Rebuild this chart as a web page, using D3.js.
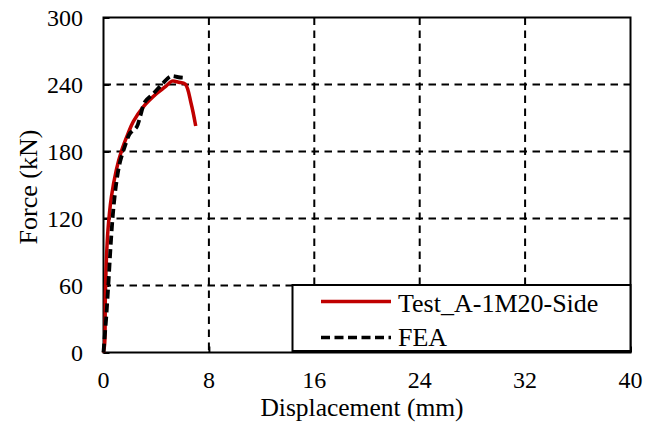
<!DOCTYPE html>
<html>
<head>
<meta charset="utf-8">
<script src="https://cdn.jsdelivr.net/npm/d3@7"></script>
<style>
  html, body { margin: 0; padding: 0; background: #fff; }
  svg { display: block; font-family: "Liberation Serif", "Times New Roman", serif; }
</style>
</head>
<body>
<svg id="chart" width="656" height="426"></svg>
<script>
// Load–displacement response: test vs. finite element analysis
const testDisp  = [0, 0.09, 0.14, 0.21, 0.34, 0.6, 0.97, 1.35, 1.86, 2.26, 3.02, 4.04, 4.7, 5.2, 5.7, 6.2, 6.65, 7.0];
const testForce = [0, 8, 50, 80, 110, 139.5, 163.4, 180, 196, 206.7, 220, 232, 238, 243, 242, 240.4, 223, 202.8];

const feaDisp  = [0, 0.05, 0.21, 0.39, 0.54, 0.72, 0.97, 1.23, 1.6, 1.99, 2.14, 2.52, 2.8, 3.15, 3.8, 4.5, 5.05, 5.25, 5.7, 6.3];
const feaForce = [0, 8, 32, 65, 95, 124.7, 151.5, 169.4, 184, 196, 197.7, 202, 212, 224.6, 232, 241, 247, 247.5, 246.5, 246];

const xTicks = [0, 8, 16, 24, 32, 40];
const yTicks = [0, 60, 120, 180, 240, 300];

const seriesNames = ["Test_A-1M20-Side", "FEA"];

const svg = d3.select("#chart");
const plotL = 103.5, plotR = 630.5, plotT = 17.5, plotB = 352.5;

const x = d3.scaleLinear().domain([0, 40]).range([plotL, plotR]);
const y = d3.scaleLinear().domain([0, 300]).range([plotB, plotT]);

// dashed grid
const grid = svg.append("g")
  .attr("stroke", "#000").attr("stroke-width", 2).attr("stroke-dasharray", "7.5,5.5");
grid.selectAll("line.h").data(yTicks.filter(v => v > 0 && v < 300)).enter()
  .append("line").attr("class", "h")
  .attr("x1", plotL).attr("x2", plotR)
  .attr("y1", d => y(d)).attr("y2", d => y(d));
grid.selectAll("line.v").data(xTicks.filter(v => v > 0 && v < 40)).enter()
  .append("line").attr("class", "v")
  .attr("y1", plotT).attr("y2", plotB)
  .attr("x1", d => x(d)).attr("x2", d => x(d));

// plot frame
svg.append("rect")
  .attr("x", plotL).attr("y", plotT)
  .attr("width", plotR - plotL).attr("height", plotB - plotT)
  .attr("fill", "none").attr("stroke", "#000").attr("stroke-width", 2);

// axes with inside ticks
const xAxis = svg.append("g").attr("transform", `translate(0,${plotB})`)
  .call(d3.axisTop(x).tickValues(xTicks).tickSize(6).tickFormat(""));
const yAxis = svg.append("g").attr("transform", `translate(${plotL},0)`)
  .call(d3.axisRight(y).tickValues(yTicks).tickSize(6).tickFormat(""));
[xAxis, yAxis].forEach(a => {
  a.select(".domain").remove();
  a.selectAll(".tick line").attr("stroke", "#000").attr("stroke-width", 2);
});

// tick labels
svg.append("g").selectAll("text").data(xTicks).enter().append("text")
  .attr("x", d => x(d)).attr("y", 388)
  .attr("text-anchor", "middle").attr("font-size", 24).attr("fill", "#000")
  .text(d => d);
svg.append("g").selectAll("text").data(yTicks).enter().append("text")
  .attr("x", 83).attr("y", d => y(d)).attr("dy", "0.34em")
  .attr("text-anchor", "end").attr("font-size", 24).attr("fill", "#000")
  .text(d => d);

// axis titles
svg.append("text").attr("x", 362).attr("y", 416)
  .attr("text-anchor", "middle").attr("font-size", 25.5).attr("fill", "#000")
  .text("Displacement (mm)");
svg.append("text").attr("transform", "translate(36.5,187) rotate(-90)")
  .attr("text-anchor", "middle").attr("font-size", 26).attr("fill", "#000")
  .text("Force (kN)");

// curves
const curveLine = d3.line().x(d => x(d[0])).y(d => y(d[1])).curve(d3.curveCatmullRom.alpha(0.5));
const testPts = testDisp.map((d, i) => [d, testForce[i]]);
const feaPts = feaDisp.map((d, i) => [d, feaForce[i]]);

svg.append("path").datum(testPts)
  .attr("d", curveLine)
  .attr("fill", "none").attr("stroke", "#C00000").attr("stroke-width", 3.5)
  .attr("stroke-linejoin", "round");
svg.append("path").datum(feaPts)
  .attr("d", curveLine)
  .attr("fill", "none").attr("stroke", "#000").attr("stroke-width", 3.8)
  .attr("stroke-dasharray", "9,4.5");

// legend
const lg = svg.append("g");
lg.append("rect").attr("x", 292.5).attr("y", 285).attr("width", 338).attr("height", 66)
  .attr("fill", "#fff").attr("stroke", "#000").attr("stroke-width", 2);
const legendItems = [
  { name: seriesNames[0], color: "#C00000", dash: null, ly: 301.5, ty: 311.5 },
  { name: seriesNames[1], color: "#000", dash: "9,4.5", ly: 337.5, ty: 346 }
];
legendItems.forEach(it => {
  lg.append("line").attr("x1", 321).attr("x2", 391).attr("y1", it.ly).attr("y2", it.ly)
    .attr("stroke", it.color).attr("stroke-width", 3.5)
    .attr("stroke-dasharray", it.dash);
  lg.append("text").attr("x", 398).attr("y", it.ty)
    .attr("font-size", 26).attr("fill", "#000").text(it.name);
});
</script>
</body>
</html>
